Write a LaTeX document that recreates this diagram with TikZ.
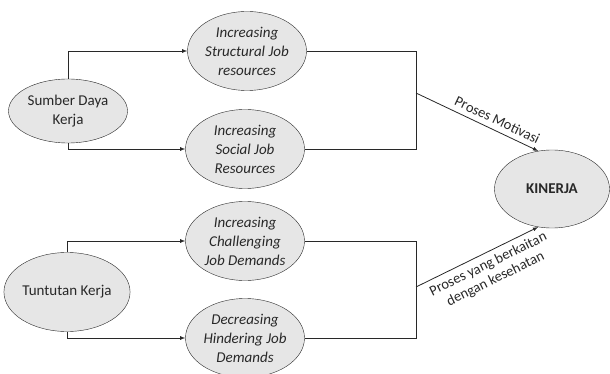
\documentclass[tikz,border=0pt]{standalone}
\usepackage{fontspec}
\setmainfont{Carlito}
\usepackage{tikz}
\usetikzlibrary{arrows,shapes.geometric}

\definecolor{ellfill}{RGB}{230,230,230}
\definecolor{inkgrey}{RGB}{40,40,40}

\begin{document}
\begin{tikzpicture}[>=latex, x=1pt, y=-1pt]
  \tikzstyle{factor} = [draw=inkgrey, thin, fill=ellfill, ellipse, inner sep=0pt, minimum width=119, minimum height=64, align=center, text=inkgrey, font={\fontsize{15}{19}\selectfont}]
  \tikzstyle{job} = [factor, minimum width=119, minimum height=79, font={\fontsize{15}{19}\selectfont\itshape}]
  \tikzstyle{result} = [factor, minimum width=115, minimum height=78, font={\fontsize{15}{19}\selectfont\bfseries}]

  \tikzstyle{flowPortion} = [inkgrey, line width=0.8pt];
  \tikzstyle{flow} = [flowPortion, ->];
  \tikzstyle{flowLabel} = [sloped, text=inkgrey, align=center, inner sep=5pt, font={\fontsize{14.5}{16.5}\selectfont}];

  \useasboundingbox (0,0) rectangle (610,374);

  \node[factor] (SDK) at (68,111)   {Sumber Daya\\Kerja};
  \node[factor, minimum height=79] (TK) at (67,292) {Tuntutan Kerja};

  \node[job] (SJR) at (247,51)  {Increasing\\Structural Job\\resources};
  \node[job] (SOC) at (245,149) {Increasing\\Social Job\\Resources};
  \node[job] (CJD) at (245,241) {Increasing\\Challenging\\Job Demands};
  \node[job] (HJD) at (245,338) {Decreasing\\Hindering Job\\Demands};

  \node[result] (KIN) at (552,189) {KINERJA};

  \coordinate (hubUp) at (416,93);
  \coordinate (hubDown) at (416,287);

  % sources to the four job nodes
  \draw[flow] (SDK.north) |- (SJR.west);
  \draw[flow] (SDK.south) |- (SOC.west);
  \draw[flow] (TK.north) |- (CJD.west);
  \draw[flow] (TK.south) |- (HJD.west);

  % job nodes joined on the right
  \draw[flowPortion] (SJR.east) -- (SJR.east -| hubUp) -- (SOC.east -| hubUp) -- (SOC.east);
  \draw[flowPortion] (CJD.east) -- (CJD.east -| hubDown) -- (HJD.east -| hubDown) -- (HJD.east);

  \path (hubUp) edge[flow] node[flowLabel, above, pos=0.63] {Proses Motivasi} (KIN.110)
        (hubDown) edge[flow] node[flowLabel, below, pos=0.55] {Proses yang berkaitan\\dengan kesehatan} (KIN.250);
\end{tikzpicture}
\end{document}
